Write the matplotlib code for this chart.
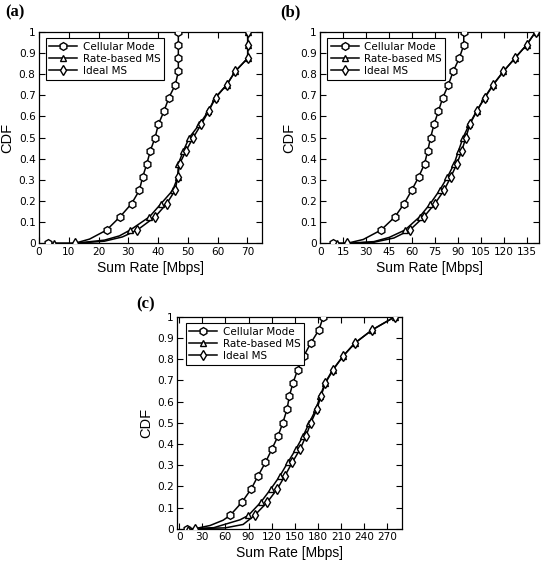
import matplotlib
matplotlib.use("Agg")
import matplotlib.pyplot as plt
from matplotlib.lines import Line2D

plt.rcParams['font.family'] = ['Liberation Sans', 'DejaVu Sans']

# CDF levels at which markers are drawn
CDF_LEVELS = [0.0, 0.0625, 0.125, 0.1875, 0.25, 0.3125, 0.375, 0.4375, 0.5,
              0.5625, 0.625, 0.6875, 0.75, 0.8125, 0.875, 0.9375, 1.0]

SERIES_NAMES = ["Cellular Mode", "Rate-based MS", "Ideal MS"]

# ---- Panel (a) ----
A_CELL = [3, 22.7, 27.2, 31.1, 33.7, 34.8, 36.2, 37.4, 39.0, 40.1, 42.0, 43.6, 45.8, 46.8, 46.8, 46.8, 46.8]
A_RATE = [5, 30.6, 37.1, 41.0, 44.9, 46.6, 46.8, 48.5, 50.5, 53.9, 56.9, 59.1, 63.1, 65.9, 70.1, 70.1, 70.1]
A_IDEAL = [12.2, 33.0, 39.0, 42.9, 45.7, 46.6, 47.2, 49.4, 51.8, 54.5, 57.0, 59.3, 63.1, 65.9, 70.1, 70.1, 70.1]
A_CELL_TAIL_X, A_CELL_TAIL_Y = [12, 17], [0.0, 0.02]
A_RATE_TAIL_X, A_RATE_TAIL_Y = [12, 22, 27], [0.0, 0.015, 0.035]
A_IDEAL_TAIL_X, A_IDEAL_TAIL_Y = [22, 28], [0.01, 0.03]
A_XTICKS = [0, 10, 20, 30, 40, 50, 60, 70]
A_XLIM = (0, 75)

# ---- Panel (b) ----
B_CELL = [8, 39.6, 48.7, 54.7, 59.6, 64.1, 68.0, 70.1, 72.0, 74.2, 77.1, 79.9, 83.6, 86.7, 90.7, 93.6, 93.6]
B_RATE = [10.7, 55.2, 64.8, 71.8, 77.8, 82.9, 87.3, 90.2, 93.2, 97.2, 102.0, 107.1, 112.7, 119.5, 127.0, 134.6, 140.5]
B_IDEAL = [17.5, 58.4, 67.6, 74.8, 80.7, 85.1, 89.1, 92.3, 95.0, 97.6, 102.1, 107.3, 113.0, 119.5, 127.0, 134.6, 140.5]
B_CELL_TAIL_X, B_CELL_TAIL_Y = [17.5, 28], [0.0, 0.018]
B_RATE_TAIL_X, B_RATE_TAIL_Y = [17.5, 35, 45], [0.0, 0.008, 0.028]
B_IDEAL_TAIL_X, B_IDEAL_TAIL_Y = [35, 48], [0.005, 0.025]
B_XTICKS = [0, 15, 30, 45, 60, 75, 90, 105, 120, 135]
B_XLIM = (0, 142.5)

# ---- Panel (c) ----
C_CELL = [9.7, 66, 81.5, 93.5, 102.5, 112, 120.3, 128.4, 134.6, 140, 143, 147.8, 153.9, 161.5, 170.8, 181.4, 187.2]
C_RATE = [12, 89.8, 106, 119, 131, 141, 151.5, 161, 169, 177.5, 183, 189.4, 199.5, 212.5, 228, 250.5, 280.3]
C_IDEAL = [20, 97.8, 114.4, 127.4, 137.4, 146.8, 157, 164.7, 171, 178.8, 184, 190, 200, 212.5, 228, 250.5, 280.3]
C_CELL_TAIL_X, C_CELL_TAIL_Y = [20, 40, 57], [0.0, 0.015, 0.04]
C_RATE_TAIL_X, C_RATE_TAIL_Y = [20, 45, 79], [0.0, 0.005, 0.042]
C_IDEAL_TAIL_X, C_IDEAL_TAIL_Y = [60, 83], [0.004, 0.02]
C_XTICKS = [0, 30, 60, 90, 120, 150, 180, 210, 240, 270]
C_XLIM = (-2.5, 289)

Y_TICKS = [0, 0.1, 0.2, 0.3, 0.4, 0.5, 0.6, 0.7, 0.8, 0.9, 1.0]
Y_TICKLABELS = ["0", "0.1", "0.2", "0.3", "0.4", "0.5", "0.6", "0.7", "0.8", "0.9", "1"]

MARKERS = ['h', '^', 'd']
MSIZES = [5.6, 5.0, 5.0]
W, H = 545, 562
SMALL_FONT = ['DejaVu Sans']

fig = plt.figure(figsize=(W / 100, H / 100), dpi=100)


def px_axes(left, top, right, bottom):
    return fig.add_axes([left / W, 1 - bottom / H, (right - left) / W, (bottom - top) / H])


def draw_panel(ax, series, tails, xticks, xlim, legend_anchor):
    for i, (vals, (tx, ty)) in enumerate(zip(series, tails)):
        lx = [vals[0]] + list(tx) + list(vals[1:])
        ly = [CDF_LEVELS[0]] + list(ty) + list(CDF_LEVELS[1:])
        ax.plot(lx, ly, color='black', lw=1.1, zorder=2)
        ax.plot(vals, CDF_LEVELS, ls='none', marker=MARKERS[i], ms=MSIZES[i],
                mfc='white', mec='black', mew=1.0, zorder=3)
    ax.set_xlim(*xlim)
    ax.set_ylim(0, 1)
    ax.set_xticks(xticks)
    ax.set_xticklabels([str(t) for t in xticks], family=SMALL_FONT)
    ax.set_yticks(Y_TICKS)
    ax.set_yticklabels(Y_TICKLABELS, family=SMALL_FONT)
    ax.tick_params(direction='in', top=True, right=True, length=4, width=0.8,
                   labelsize=7.6, pad=2.5, colors='black')
    for s in ax.spines.values():
        s.set_linewidth(0.9)
    ax.set_xlabel("Sum Rate [Mbps]", fontsize=10, labelpad=3)
    ax.set_ylabel("CDF", fontsize=10.5, labelpad=3)
    handles = [Line2D([0], [0], color='black', lw=1.1, marker=MARKERS[i],
                      ms=MSIZES[i], mfc='white', mec='black', mew=1.0)
               for i in range(3)]
    leg = ax.legend(handles, SERIES_NAMES, loc='upper left', bbox_to_anchor=legend_anchor,
                    borderaxespad=0, frameon=True, fancybox=False,
                    prop={'family': SMALL_FONT, 'size': 7.5},
                    edgecolor='black', framealpha=1, handlelength=2.7, handletextpad=0.5,
                    labelspacing=0.2, borderpad=0.35)
    leg.get_frame().set_linewidth(0.8)


ax_a = px_axes(39, 31.7, 262.3, 243.3)
draw_panel(ax_a, [A_CELL, A_RATE, A_IDEAL],
           [(A_CELL_TAIL_X, A_CELL_TAIL_Y), (A_RATE_TAIL_X, A_RATE_TAIL_Y), (A_IDEAL_TAIL_X, A_IDEAL_TAIL_Y)],
           A_XTICKS, A_XLIM, (0.03, 0.969))

ax_b = px_axes(320.3, 31.7, 538.7, 243.3)
draw_panel(ax_b, [B_CELL, B_RATE, B_IDEAL],
           [(B_CELL_TAIL_X, B_CELL_TAIL_Y), (B_RATE_TAIL_X, B_RATE_TAIL_Y), (B_IDEAL_TAIL_X, B_IDEAL_TAIL_Y)],
           B_XTICKS, B_XLIM, (0.031, 0.969))

ax_c = px_axes(177.3, 316.7, 401.7, 528.7)
draw_panel(ax_c, [C_CELL, C_RATE, C_IDEAL],
           [(C_CELL_TAIL_X, C_CELL_TAIL_Y), (C_RATE_TAIL_X, C_RATE_TAIL_Y), (C_IDEAL_TAIL_X, C_IDEAL_TAIL_Y)],
           C_XTICKS, C_XLIM, (0.037, 0.969))

for label, x, y in [("(a)", 5, 4), ("(b)", 280, 4), ("(c)", 136, 296)]:
    fig.text(x / W, 1 - y / H, label, fontsize=12, fontweight='bold',
             family=['Liberation Serif', 'DejaVu Serif'], va='top', ha='left')

fig.savefig("out.png", dpi=100)
